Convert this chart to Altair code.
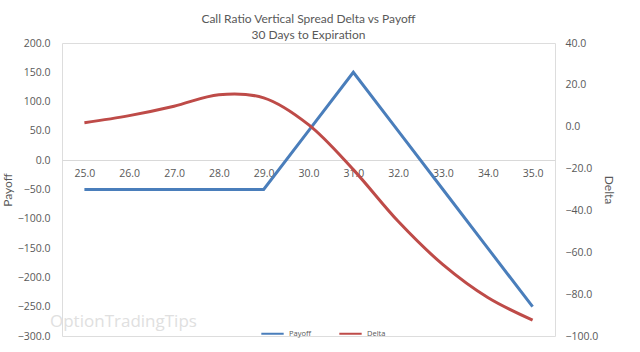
import altair as alt
import pandas as pd

strikes = [25.0, 26.0, 27.0, 28.0, 29.0, 30.0, 31.0, 32.0, 33.0, 34.0, 35.0]
payoff = [-50, -50, -50, -50, -50, 50, 150, 50, -50, -150, -250]
delta = [1.9, 5.3, 9.8, 15.3, 13.8, 1.0, -20.5, -45.2, -65.9, -81.6, -92.4]

df = pd.DataFrame({"strike": strikes, "payoff": payoff, "delta": delta})

FONT = "Open Sans"
TFONT = "Lato"
TXT = "#595959"
BLUE = "#4A7EBB"
RED = "#BE4B48"

color_scale = alt.Scale(domain=["Payoff", "Delta"], range=[BLUE, RED])
color_legend = alt.Legend(
    title=None, orient="none", legendX=198, legendY=278, direction="horizontal",
    symbolType="stroke", symbolSize=500, symbolStrokeWidth=2, labelFontSize=7.5,
    labelFont=FONT, labelColor=TXT, columnPadding=24,
)

x = alt.X(
    "strike:Q",
    scale=alt.Scale(domain=[24.5, 35.5], nice=False, zero=False),
    axis=alt.Axis(
        title=None, values=strikes, format=".1f", offset=-176, ticks=False,
        domainColor="#D9D9D9", labelColor=TXT, labelFont=FONT, labelFontSize=10.5,
        labelPadding=8, grid=False,
    ),
)

pay = alt.Chart(df).transform_calculate(series="'Payoff'").mark_line(
    strokeWidth=3, interpolate="linear"
).encode(
    x=x,
    y=alt.Y(
        "payoff:Q",
        scale=alt.Scale(domain=[-300, 200], nice=False),
        axis=alt.Axis(
            title="Payoff", values=list(range(-300, 201, 50)), format=".1f",
            domain=False, ticks=False, grid=False, labelColor=TXT, labelFont=FONT,
            labelFontSize=10.5, labelPadding=12, titleColor=TXT, titleFont=TFONT,
            titleFontSize=12, titleFontWeight="normal", titlePadding=3,
        ),
    ),
    color=alt.Color("series:N", scale=color_scale, legend=color_legend),
)

dl = alt.Chart(df).transform_calculate(series="'Delta'").mark_line(
    strokeWidth=3, interpolate="catmull-rom"
).encode(
    x=x,
    y=alt.Y(
        "delta:Q",
        scale=alt.Scale(domain=[-100, 40], nice=False),
        axis=alt.Axis(
            title="Delta", orient="right", values=list(range(-100, 41, 20)), format=".1f",
            domain=False, ticks=False, grid=False, labelColor=TXT, labelFont=FONT,
            labelFontSize=10.5, labelPadding=10, titleColor=TXT, titleFont=TFONT,
            titleFontSize=12, titleFontWeight="normal", titlePadding=4,
        ),
    ),
    color=alt.Color("series:N", scale=color_scale, legend=color_legend),
)

wm = alt.Chart(pd.DataFrame({"t": ["OptionTradingTips"]})).mark_text(
    font=FONT, fontSize=17, color="#E0E0E0", align="left", baseline="middle"
).encode(text="t:N", x=alt.value(-12), y=alt.value(279))

chart = alt.layer(wm, pay, dl).resolve_scale(y="independent").properties(
    width=493, height=293,
    title=alt.TitleParams(
        text=["Call Ratio Vertical Spread Delta vs Payoff", "30 Days to Expiration"],
        font=TFONT, fontSize=12, fontWeight="normal", color=TXT, anchor="middle",
        offset=-4, lineHeight=16, frame="group",
    ),
    autosize=alt.AutoSizeParams(type="none"),
    padding={"left": 62, "top": 43, "right": 85, "bottom": 16},
).configure_view(stroke=None).configure(background="white")

chart.save("out.html", embed_options={"renderer": "svg", "actions": False})
